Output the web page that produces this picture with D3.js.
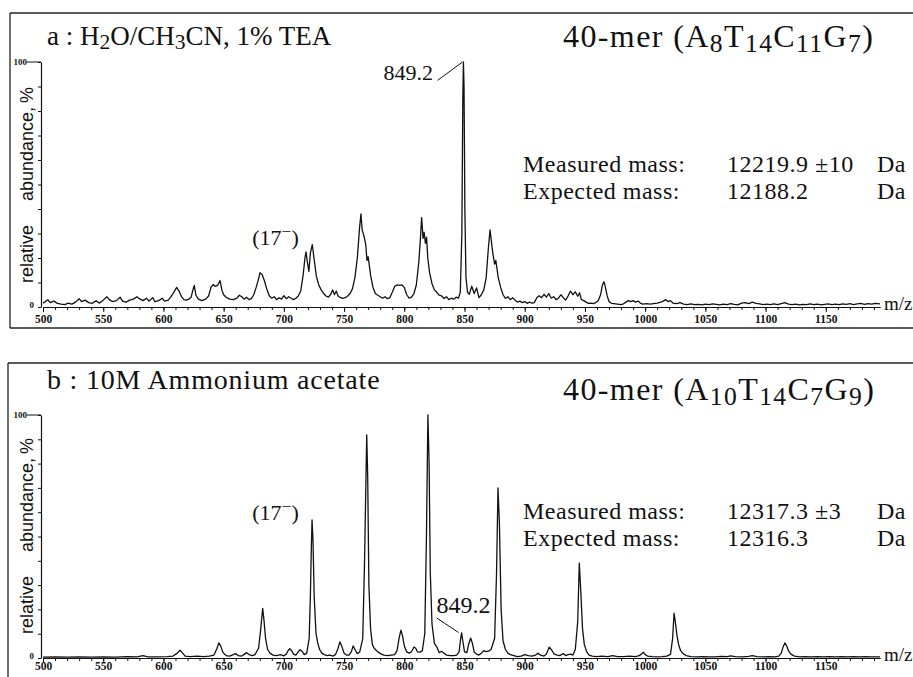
<!DOCTYPE html>
<html>
<head>
<meta charset="UTF-8">
<style>
    body {
        margin: 0;
        background-color: #fff;
    }

    svg text {
        font-family: "Liberation Serif", "Times New Roman", serif;
        fill: #111;
    }

    .ylab {
        font-family: "Liberation Sans", Arial, sans-serif !important;
        font-size: 18px;
    }
</style>
<title>ESI spectra, 40-mer</title>
</head>
<body>
<svg id="chart" width="913" height="677"></svg>

<script src="https://cdn.jsdelivr.net/npm/d3@7"></script>
<script>
    // ---- data: [m/z, relative abundance %] ----
    const specA = [
        [500,1.5],[502,2.2],[504,3.0],[506,1.8],[509,2.4],[512,1.5],[515,1.2],[518,1.0],[521,1.6],[524,1.2],
        [527,2.0],[530,3.4],[532,2.2],[535,2.8],[538,1.8],[541,1.5],[544,2.5],[547,1.6],[550,2.8],[553,4.2],
        [555,3.0],[558,2.2],[561,2.6],[564,4.0],[566,2.4],[569,2.0],[572,2.8],[575,3.2],[578,4.2],[580,3.4],
        [583,2.6],[586,3.6],[588,2.4],[591,3.8],[593,2.2],[596,2.6],[599,3.6],[601,2.4],[604,2.8],[606,4.0],
        [608,5.5],[610,7.2],[611,8.0],[613,6.5],[615,4.2],[617,3.0],[619,2.8],[621,3.2],[623,4.0],[624.5,7.0],
        [625.6,8.8],[627,4.8],[629,3.2],[632,2.6],[635,3.2],[637.5,4.5],[639.5,8.0],[641.4,9.2],[643,8.4],[645,8.8],
        [647,10.8],[648.5,7.0],[650,5.0],[652,4.0],[655,3.2],[658,3.0],[661,3.6],[663,4.8],[665,4.2],[667,3.2],
        [669,4.0],[671,3.0],[673,3.4],[675,5.0],[677,8.0],[679,11.5],[680.2,14.0],[682,13.2],[684,10.5],[686,7.0],
        [688,4.5],[690,3.6],[692,4.2],[694,3.0],[696,3.8],[698,3.2],[700,4.6],[702,3.4],[704,4.2],[706,3.6],
        [708,3.0],[710,3.6],[712,4.5],[714,6.5],[716,13.0],[717.5,20.0],[718.4,22.5],[719.6,18.0],[720.8,14.5],[722,22.0],
        [723.6,25.5],[725,20.0],[727,12.5],[729,9.0],[731,7.0],[733,5.5],[735,4.5],[737,4.0],[739,5.2],[740.5,7.0],
        [742,5.0],[743.5,6.5],[745,4.5],[747,3.8],[749,3.5],[751,3.8],[753,4.5],[755,5.5],[757,7.5],[759,12.0],
        [761,20.0],[762.8,32.0],[764,38.0],[765,31.5],[766.5,29.0],[768,25.5],[769,19.0],[770,20.5],[772,13.0],[774,8.0],
        [776,5.5],[778,4.8],[780,4.2],[782,3.6],[784,4.2],[786,3.4],[788,3.8],[790,6.0],[792,8.4],[794,9.0],
        [796,8.8],[798,9.0],[800,8.0],[802,5.0],[804,3.6],[806,4.0],[808,5.5],[810,9.0],[812,18.0],[813.4,28.0],
        [814.4,36.5],[815.6,28.0],[816.5,30.5],[817.5,26.0],[818.5,28.5],[819.5,20.0],[821,14.0],[823,9.5],[825,7.0],[827,6.0],
        [829,4.8],[831,4.5],[833,3.5],[835,4.2],[837,3.0],[839,3.6],[841,3.2],[843,4.0],[845,3.6],[846.5,6.0],
        [847.8,30],[848.6,85],[849.1,100],[849.6,90],[850.3,40],[851.2,12],[852.5,6.0],[854,5.2],[856,8.5],[858,5.5],
        [860,7.8],[862,3.8],[864,5.0],[866,7.0],[868,12],[869.8,24],[871.2,31.5],[872.5,26],[873.5,22],[875,17.5],
        [876,19],[878,12],[880,8],[882,5.0],[884,3.5],[886,4.2],[888,3.0],[890,3.8],[892,2.8],[894,2.0],
        [896,2.4],[898,1.8],[900,2.2],[902,1.5],[904,2.0],[906,1.6],[908,1.8],[910,3.8],[912,4.6],[914,3.8],
        [916,5.2],[918,4.0],[920,5.5],[922,3.6],[924,4.2],[926,3.0],[928,3.6],[930,5.0],[932,3.8],[934,2.8],
        [936,4.5],[938,6.5],[940,5.0],[942,6.2],[944,4.4],[945.5,5.8],[947,3.0],[949,2.6],[951,2.0],[953,1.5],
        [955,1.6],[957,1.4],[959,1.8],[961,2.6],[963,5.0],[964.5,9.0],[965.8,10.3],[967,8.0],[968.5,4.5],[970,2.2],
        [972,1.5],[974,1.4],[977,1.2],[980,1.0],[982,1.3],[984,2.0],[986,2.6],[988,2.2],[990,2.6],[992,2.0],
        [994,2.4],[996,1.6],[998,1.2],[1001,1.4],[1004,1.2],[1007,1.4],[1010,1.6],[1013,2.0],[1015,2.4],[1017,3.0],
        [1019,2.2],[1021,2.6],[1023,1.6],[1026,1.4],[1029,1.8],[1032,1.2],[1035,1.0],[1038,1.3],[1041,1.0],[1044,1.1],
        [1047,0.9],[1050,1.2],[1053,1.0],[1056,1.3],[1059,1.1],[1062,0.9],[1065,1.2],[1068,1.0],[1071,1.4],[1074,1.1],
        [1077,0.9],[1080,1.6],[1083,1.8],[1086,1.4],[1089,2.0],[1092,1.5],[1095,1.3],[1098,1.0],[1101,1.2],[1104,1.0],
        [1107,1.3],[1110,1.0],[1113,1.4],[1116,1.8],[1119,1.2],[1122,1.0],[1125,1.2],[1128,0.9],[1131,1.1],[1134,1.0],
        [1137,1.3],[1140,1.0],[1143,1.2],[1146,0.9],[1149,1.1],[1152,1.3],[1155,1.0],[1158,1.2],[1161,1.0],[1164,1.3],
        [1167,1.1],[1170,1.4],[1173,1.0],[1176,1.3],[1179,1.5],[1182,1.1],[1185,1.4],[1188,1.2],[1191,1.5],[1195,1.3]
    ];

    const specB = [
        [500,0.4],[510,0.5],[520,0.4],[530,0.5],[540,0.4],[550,0.5],[560,0.4],[570,0.6],[578,0.5],[583,1.0],
        [587,0.5],[595,0.5],[603,0.6],[608,0.8],[611.5,2.0],[613.8,3.2],[616,2.0],[618,0.8],[622,0.6],[628,0.8],
        [633,0.6],[638,0.8],[642,1.2],[644.5,4.0],[646,6.2],[647.5,5.0],[649.5,2.2],[652,1.0],[655,0.8],[658,1.4],
        [660,1.8],[662,1.0],[665,0.8],[667,1.5],[669,2.2],[671,1.4],[674,1.0],[676,1.4],[679,4.0],[680.8,12.0],
        [682.4,20.4],[683.4,16.0],[684.8,8.0],[686.5,3.5],[688.5,2.0],[691,1.2],[694,1.0],[697,1.4],[700,0.9],[702,1.6],
        [703.5,3.0],[705,3.8],[706.5,3.0],[708,1.6],[710,1.2],[712,2.6],[713.5,3.4],[715,2.8],[717,1.4],[719,2.0],
        [721,8.0],[722,25],[722.8,45],[723.4,56.8],[724.2,48],[725.2,25],[726.7,10],[728.2,6.0],[729.7,3.5],[731.5,2.0],
        [733.5,1.4],[736,1.0],[738,1.2],[741,0.8],[743,1.5],[745,4.0],[746.5,6.6],[748,5.0],[750,2.0],[752,1.2],
        [754,1.2],[756,2.5],[757.5,5.0],[759,3.5],[761,1.8],[763,2.5],[765.5,8],[767,40],[768.8,91.8],[769.6,75],
        [770.6,30],[772,12],[773.5,5.5],[775,4.0],[777,3.0],[779,2.2],[781,1.6],[783,1.2],[786,1.0],[789,1.2],
        [792,1.4],[794,3.0],[795.6,8.0],[797.2,11.5],[798.6,9.0],[800,5.0],[802,2.5],[804,2.0],[806,2.6],[808,4.5],
        [809.5,4.0],[811,2.5],[813,2.4],[815,3.0],[817,10],[818.4,50],[819.6,100],[820.6,80],[821.6,35],[823,14],
        [825,6],[827,4.5],[829,2.2],[831,2.8],[833,2.0],[835,1.2],[838,1.0],[841,1.0],[843.5,1.2],[845.5,2.5],
        [846.8,8.0],[847.6,10.3],[848.6,7.0],[850,2.5],[852,2.2],[853.6,6.0],[855.1,8.2],[856.6,6.0],[858,2.5],[860,1.6],
        [862,1.2],[864,2.0],[866,3.0],[868,2.6],[870,2.8],[872,3.5],[875,8],[876.6,35],[877.8,70],[879,55],
        [880.4,20],[882,7],[884,3.5],[886,2.0],[888,1.4],[891,1.0],[894,0.6],[897,0.8],[900,1.4],[903,1.0],
        [906,0.8],[909,1.2],[911,2.0],[913,1.2],[916,0.8],[918,1.6],[920.4,4.5],[922.5,3.2],[924.5,1.6],[927,1.2],
        [929,1.0],[932,1.8],[934,1.0],[936,1.4],[938,1.6],[940,1.2],[942,3.5],[944,15],[945.3,39],[946.5,28],
        [948,12],[949.5,5.5],[951.5,2.5],[953.5,1.2],[956,0.8],[960,0.6],[964,0.8],[969,0.6],[973,1.0],[977,0.6],
        [982,0.6],[987,0.8],[992,0.6],[995,1.0],[997,1.6],[998.5,2.4],[1000,1.4],[1002,0.8],[1006,0.6],[1010,0.5],
        [1014,0.6],[1018,0.8],[1021,1.5],[1022.8,8],[1024,18.5],[1025,15],[1026.5,9],[1028,5],[1029.5,3],[1031.5,1.8],
        [1034,1.0],[1038,0.6],[1043,0.5],[1048,0.6],[1053,0.5],[1058,0.5],[1063,0.7],[1068,0.6],[1071,0.9],[1075,0.6],
        [1081,0.5],[1086,0.7],[1089,1.0],[1093,0.6],[1098,0.5],[1103,0.6],[1108,0.5],[1111,0.8],[1113,2.0],[1114.5,4.5],
        [1116,6.2],[1117.5,5.0],[1119,3.0],[1121,1.6],[1124,0.8],[1128,0.5],[1133,0.6],[1138,0.5],[1143,0.6],[1148,0.5],
        [1153,0.6],[1158,0.5],[1163,0.6],[1168,0.5],[1173,0.6],[1178,0.5],[1183,0.6],[1188,0.5],[1195,0.5]
    ];

    const xMajorTicks = [500, 550, 600, 650, 700, 750, 800, 850, 900, 950, 1000, 1050, 1100, 1150];
    const xMinorTicks = d3.range(500, 1195, 10);
    const yTicks = d3.range(0, 101, 10);
    const yTickLabels = [0, 100];

    const titlesLeft = [
        ["a : H", ["2", "sub"], "O/CH", ["3", "sub"], "CN, 1% TEA"],
        ["b : 10M Ammonium acetate"]
    ];
    const titlesRight = [
        ["40-mer (A", ["8", "sub"], "T", ["14", "sub"], "C", ["11", "sub"], "G", ["7", "sub"], ")"],
        ["40-mer (A", ["10", "sub"], "T", ["14", "sub"], "C", ["7", "sub"], "G", ["9", "sub"], ")"]
    ];
    const massNames = ["Measured mass:", "Expected mass:"];
    const measured = ["12219.9 \u00b110", "12317.3 \u00b13"];
    const expected = ["12188.2", "12316.3"];
    const chargeLabel = ["(17", ["\u2212", "sup"], ")"];
    const chargeMz = [682, 682];
    const markMz = 849.2;

    // ---- layout (pixels) ----
    const panels = [
        { spec: specA, top: 62, base: 307, frameTop: 13, frameBottom: 328, frameLeft: 10,
          titleY: 45, titleSize: 27, titleSpacing: 0, rightY: 47,
          massY: [172, 199], chargeY: 245, labelY: 323 },
        { spec: specB, top: 415, base: 658, frameTop: 363, frameBottom: null, frameLeft: 8,
          titleY: 389, titleSize: 28, titleSpacing: 0.8, rightY: 400,
          massY: [519, 546], chargeY: 520, labelY: 670 }
    ];

    const svg = d3.select("#chart");
    const x = d3.scaleLinear().domain([500, 1195]).range([43, 880]);

    function rich(g, px, py, size, parts, spacing) {
        const t = g.append("text")
            .attr("x", px)
            .attr("y", py)
            .style("font-size", size + "px")
            .style("letter-spacing", (spacing || 0) + "px");
        let shift = 0;
        parts.forEach(p => {
            const [str, kind] = typeof p === "string" ? [p, ""] : p;
            const target = kind === "sub" ? 0.16 * size : kind === "sup" ? -0.36 * size : 0;
            const ts = t.append("tspan").attr("dy", target - shift).text(str);
            if (kind) ts.style("font-size", (size * 0.8) + "px");
            shift = target;
        });
        return t;
    }

    // one text element for each line of the mass block
    function massLine(g, py, cells, size) {
        const t = g.append("text").attr("y", py)
            .style("font-size", size + "px")
            .style("letter-spacing", "0.5px");
        cells.forEach(([px, s]) => t.append("tspan").attr("x", px).text(s));
    }

    panels.forEach((p, i) => {
        const g = svg.append("g");
        const y = d3.scaleLinear().domain([0, 100]).range([p.base, p.top]);

        // frame
        g.append("line").attr("x1", p.frameLeft).attr("x2", 913)
            .attr("y1", p.frameTop).attr("y2", p.frameTop)
            .attr("stroke", "#222").attr("stroke-width", 1.3);
        g.append("line").attr("x1", p.frameLeft).attr("x2", p.frameLeft)
            .attr("y1", p.frameTop).attr("y2", p.frameBottom || 677)
            .attr("stroke", "#222").attr("stroke-width", 1.3);
        if (p.frameBottom) {
            g.append("line").attr("x1", p.frameLeft).attr("x2", 913)
                .attr("y1", p.frameBottom).attr("y2", p.frameBottom)
                .attr("stroke", "#222").attr("stroke-width", 1.3);
        }

        // x axis: minor ticks, then major ticks with labels
        g.append("g")
            .attr("transform", `translate(0,${p.base})`)
            .call(d3.axisBottom(x).tickValues(xMinorTicks).tickSize(3).tickSizeOuter(0).tickFormat(""))
            .call(a => a.selectAll("line, path").attr("stroke", "#111"));
        const xa = g.append("g")
            .attr("transform", `translate(0,${p.base})`)
            .call(d3.axisBottom(x).tickValues(xMajorTicks).tickSize(5).tickSizeOuter(0)
                .tickFormat(d3.format("d")));
        xa.select(".domain").attr("stroke", "#111").attr("stroke-width", 1.2);
        xa.selectAll(".tick line").attr("stroke", "#111");
        xa.selectAll(".tick text")
            .attr("dy", null)
            .attr("y", p.labelY - p.base)
            .attr("fill", "#111")
            .style("font-family", "'Liberation Serif', serif")
            .style("font-weight", "bold")
            .style("font-size", "11.5px");

        // y axis
        const ya = g.append("g")
            .attr("transform", `translate(41,0)`)
            .call(d3.axisLeft(y).tickValues(yTicks).tickSize(3).tickSizeOuter(0).tickFormat(""));
        ya.selectAll("line, path").attr("stroke", "#111");
        ya.select(".domain").attr("stroke-width", 1.2);
        g.selectAll(".ylabnum").data(yTickLabels).join("text")
            .attr("x", d => d === 0 ? 34 : 27)
            .attr("y", d => d === 0 ? y(d) + 1 : y(d) + 3)
            .attr("text-anchor", "end")
            .style("font-size", "9px")
            .style("font-weight", "bold")
            .text(d => d);
        g.append("line").attr("x1", 27).attr("x2", 41)
            .attr("y1", y(100)).attr("y2", y(100)).attr("stroke", "#111");

        // rotated y label
        [["relative", 53], ["abundance,", 153], ["%", 212]].forEach(([w, off]) => {
            g.append("text")
                .attr("class", "ylab")
                .attr("transform", `translate(33,${p.base - off}) rotate(-90)`)
                .attr("text-anchor", "middle")
                .text(w);
        });

        // m/z
        g.append("text").attr("x", 884).attr("y", p.base + 3)
            .style("font-size", "19px").text("m/z");

        // spectrum trace
        const line = d3.line().x(d => x(d[0])).y(d => y(d[1]));
        g.append("path")
            .datum(p.spec)
            .attr("d", line)
            .attr("fill", "none")
            .attr("stroke", "#111")
            .attr("stroke-width", 1.3)
            .attr("stroke-linejoin", "round");

        // titles
        rich(g, 47, p.titleY, p.titleSize, titlesLeft[i], p.titleSpacing);
        rich(g, 563, p.rightY, 32, titlesRight[i], 1.4);

        // masses
        massLine(g, p.massY[0], [[523, massNames[0]], [727, measured[i]], [877, "Da"]], 24);
        massLine(g, p.massY[1], [[523, massNames[1]], [727, expected[i]], [877, "Da"]], 24);

        // charge state label, left of the 17- peak
        rich(g, x(chargeMz[i]) - 10, p.chargeY, 22, chargeLabel, 0);
    });

    // 849.2 markers
    const yA = d3.scaleLinear().domain([0, 100]).range([panels[0].base, panels[0].top]);
    const yB = d3.scaleLinear().domain([0, 100]).range([panels[1].base, panels[1].top]);
    svg.append("text").attr("x", x(markMz) - 80).attr("y", 80)
        .style("font-size", "22px").text(markMz.toFixed(1));
    svg.append("line")
        .attr("x1", x(markMz) - 26).attr("y1", yA(92.5))
        .attr("x2", x(markMz) - 1).attr("y2", yA(100))
        .attr("stroke", "#111").attr("stroke-width", 1);
    svg.append("text").attr("x", x(markMz) - 27).attr("y", 613)
        .style("font-size", "24px").text(markMz.toFixed(1));
    svg.append("line")
        .attr("x1", x(markMz) - 27).attr("y1", yB(16.5))
        .attr("x2", x(markMz) - 5).attr("y2", yB(10.5))
        .attr("stroke", "#111").attr("stroke-width", 1);
</script>
</body>
</html>
